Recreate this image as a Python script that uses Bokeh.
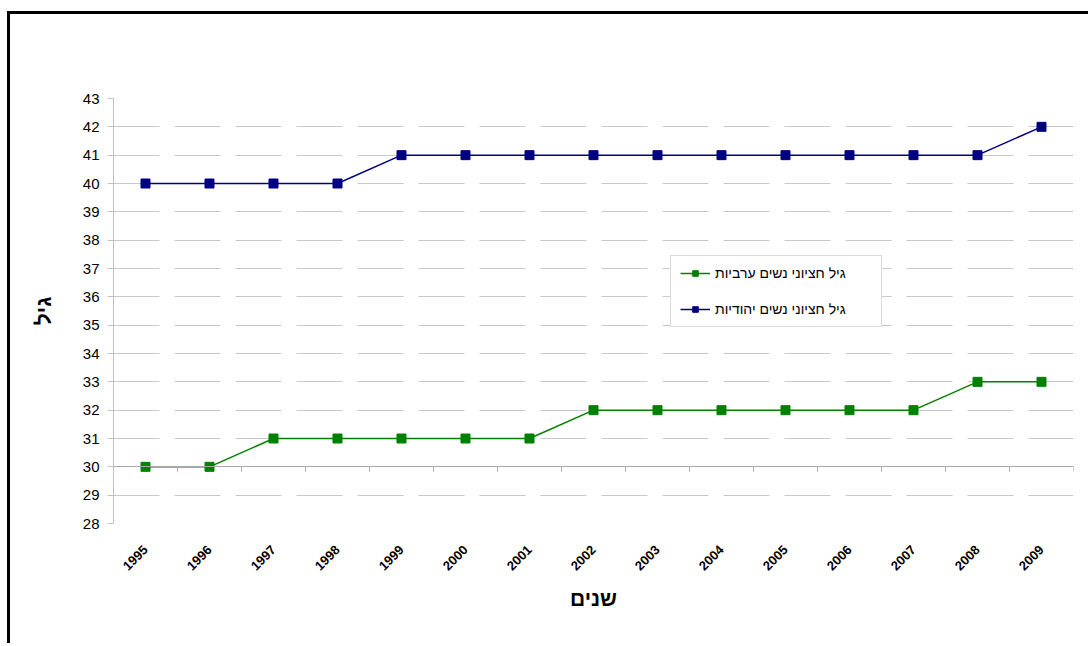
import math
from bokeh.plotting import figure
from bokeh.models import Range1d, LinearAxis, FixedTicker, Legend, LegendItem
from bokeh.embed import file_html
from bokeh.resources import INLINE

years = [1995, 1996, 1997, 1998, 1999, 2000, 2001, 2002, 2003, 2004, 2005, 2006, 2007, 2008, 2009]
arab_women = [30, 30, 31, 31, 31, 31, 31, 32, 32, 32, 32, 32, 32, 33, 33]
jewish_women = [40, 40, 40, 40, 41, 41, 41, 41, 41, 41, 41, 41, 41, 41, 42]
y_ticks = list(range(28, 44))
label_arab = "גיל חציוני נשים ערביות"
label_jewish = "גיל חציוני נשים יהודיות"
x_title = "שנים"
y_title = "גיל"

FONT = "Liberation Sans"
GREEN = "#008000"
NAVY = "#000080"

p = figure(width=1081, height=632, output_backend="svg", toolbar_location=None,
           x_range=Range1d(years[0] - 0.5, years[-1] + 0.5),
           y_range=Range1d(y_ticks[0], y_ticks[-1]),
           min_border_left=103, min_border_right=18, min_border_top=84, min_border_bottom=123)
p.styles = {"border-left": "3px solid black", "border-top": "3px solid black",
            "margin-top": "11px", "margin-left": "7px"}
p.outline_line_color = None
p.background_fill_color = "white"
p.border_fill_color = "white"

# x axis (labels)
xa = p.xaxis[0]
xa.ticker = FixedTicker(ticks=years)
xa.major_label_orientation = math.pi / 4
xa.major_label_text_font = FONT
xa.major_label_text_font_style = "bold"
xa.major_label_text_font_size = "13px"
xa.major_label_text_color = "black"
xa.major_tick_line_color = None
xa.minor_tick_line_color = None
xa.axis_line_color = None
xa.major_label_standoff = 18
xa.axis_label = x_title
xa.axis_label_text_font = FONT
xa.axis_label_text_font_style = "bold"
xa.axis_label_text_font_size = "21px"
xa.axis_label_text_color = "black"
xa.axis_label_standoff = 10

# horizontal axis line crossing at 30
boundaries = [y - 0.5 for y in years] + [years[-1] + 0.5]
xa2 = LinearAxis(fixed_location=arab_women[0], ticker=FixedTicker(ticks=boundaries))
xa2.major_label_text_color = None
xa2.major_label_text_font_size = "1px"
xa2.axis_line_color = "#a8a8a8"
xa2.major_tick_line_color = "#a8a8a8"
xa2.major_tick_in = 0
xa2.major_tick_out = 5
xa2.minor_tick_line_color = None
p.add_layout(xa2, "below")

# y axis
ya = p.yaxis[0]
ya.ticker = FixedTicker(ticks=y_ticks)
ya.axis_line_color = "#c0c0c0"
ya.major_tick_line_color = "#c0c0c0"
ya.major_tick_in = 0
ya.major_tick_out = 6
ya.minor_tick_line_color = None
ya.major_label_text_font = FONT
ya.major_label_text_font_size = "15px"
ya.major_label_text_color = "black"
ya.major_label_standoff = 8
ya.axis_label = y_title
ya.axis_label_text_font = FONT
ya.axis_label_text_font_style = "bold"
ya.axis_label_text_font_size = "21px"
ya.axis_label_text_color = "black"
ya.axis_label_standoff = 25

p.xgrid.grid_line_color = None
p.ygrid.ticker = FixedTicker(ticks=y_ticks)
p.ygrid.grid_line_color = "#c8c8c8"
p.ygrid.grid_line_dash = "46 15"

l1 = p.line(years, arab_women, line_color=GREEN, line_width=1.5)
s1 = p.scatter(years, arab_women, marker="square", size=9, fill_color=GREEN, line_color=GREEN)
l2 = p.line(years, jewish_women, line_color=NAVY, line_width=1.5)
s2 = p.scatter(years, jewish_women, marker="square", size=9, fill_color=NAVY, line_color=NAVY)

legend = Legend(items=[LegendItem(label=label_arab, renderers=[l1, s1]),
                       LegendItem(label=label_jewish, renderers=[l2, s2])],
                location=(557, 196), padding=9, spacing=20, glyph_width=30, glyph_height=14,
                label_height=14, label_width=157, label_standoff=5,
                label_text_font=FONT, label_text_font_size="14px", label_text_color="black",
                border_line_color="#b8b8b8", border_line_width=1,
                background_fill_color="white", background_fill_alpha=1.0)
p.add_layout(legend, "center")

open("out.html", "w").write(file_html(p, INLINE))
